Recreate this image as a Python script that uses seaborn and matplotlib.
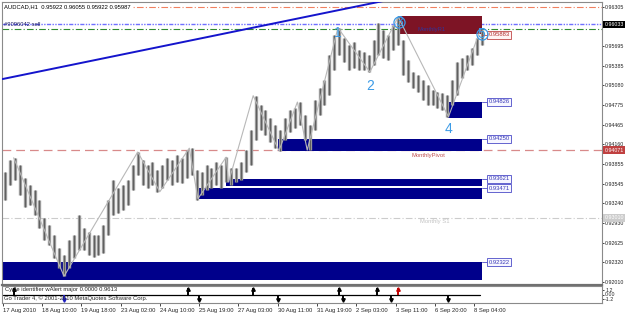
import numpy as np
import pandas as pd
import matplotlib
matplotlib.use("Agg")
import matplotlib.pyplot as plt
import seaborn as sns

# ---------------- data ----------------
symbol_header = "AUDCAD,H1  0.95922 0.96055 0.95922 0.95987"
order_text = "#9096042 sell"

# 4-hour condensed bars (hour index from 17 Aug 2010 02:00)
bar_hours = list(range(2, 392, 4))
bar_high = [0.9373, 0.9392, 0.9395, 0.9384, 0.9363, 0.9352, 0.9345, 0.9329, 0.9301, 0.9290,
            0.9274, 0.9254, 0.9243, 0.9267, 0.9274, 0.9306, 0.9285, 0.9279, 0.9274, 0.9274,
            0.9290, 0.9329, 0.9360, 0.9348, 0.9352, 0.9360, 0.9384, 0.9404, 0.9392, 0.9384,
            0.9388, 0.9376, 0.9384, 0.9395, 0.9392, 0.9399, 0.9395, 0.9407, 0.9410, 0.9376,
            0.9373, 0.9384, 0.9379, 0.9388, 0.9384, 0.9396, 0.9379, 0.9379, 0.9388, 0.9407,
            0.9438, 0.9492, 0.9477, 0.9470, 0.9457, 0.9446, 0.9438, 0.9457, 0.9470, 0.9473,
            0.9482, 0.9462, 0.9446, 0.9485, 0.9504, 0.9517, 0.9556, 0.9587, 0.9598, 0.9582,
            0.9571, 0.9576, 0.9563, 0.9560, 0.9556, 0.9579, 0.9606, 0.9595, 0.9587, 0.9602,
            0.9615, 0.9579, 0.9548, 0.9529, 0.9524, 0.9517, 0.9509, 0.9501, 0.9498, 0.9496,
            0.9493, 0.9517, 0.9545, 0.9551, 0.9556, 0.9566, 0.9582, 0.9595]
bar_low = [0.9329, 0.9352, 0.9360, 0.9337, 0.9318, 0.9321, 0.9306, 0.9285, 0.9267, 0.9259,
           0.9238, 0.9223, 0.9210, 0.9223, 0.9238, 0.9251, 0.9251, 0.9243, 0.9240, 0.9243,
           0.9246, 0.9274, 0.9306, 0.9309, 0.9313, 0.9321, 0.9345, 0.9368, 0.9352, 0.9348,
           0.9352, 0.9342, 0.9348, 0.9360, 0.9352, 0.9357, 0.9356, 0.9363, 0.9368, 0.9329,
           0.9337, 0.9345, 0.9348, 0.9352, 0.9348, 0.9357, 0.9352, 0.9357, 0.9360, 0.9373,
           0.9384, 0.9423, 0.9438, 0.9431, 0.9420, 0.9410, 0.9406, 0.9423, 0.9435, 0.9442,
           0.9446, 0.9423, 0.9407, 0.9438, 0.9462, 0.9477, 0.9493, 0.9532, 0.9556, 0.9545,
           0.9532, 0.9535, 0.9532, 0.9532, 0.9529, 0.9540, 0.9556, 0.9551, 0.9548, 0.9563,
           0.9571, 0.9524, 0.9513, 0.9504, 0.9498, 0.9485, 0.9477, 0.9477, 0.9473, 0.9470,
           0.9459, 0.9477, 0.9493, 0.9520, 0.9532, 0.9540, 0.9556, 0.9571]

# zigzag swing points
zz_hours = [9, 50, 110, 128, 152, 159, 182, 184, 204, 225, 240, 248, 273, 299, 322, 363, 389]
zz_price = [0.9395, 0.9210, 0.9404, 0.9342, 0.9410, 0.9331, 0.9396, 0.9357, 0.9492, 0.9406,
            0.9482, 0.9407, 0.9598, 0.9529, 0.9615, 0.9459, 0.9595]

# Elliott wave labels: zigzag index, text
wave_idx = [12, 13, 14, 15, 16]
wave_txt = ["1", "2", "3", "4", "5"]

# trend line
trend_hours = [0, 330]
trend_price = [0.9518, 0.96478]

# zones: start hour, end hour, bottom, top, label
zone_start = [322, 363, 224, 182, 159, 0]
zone_end = [390, 390, 390, 390, 390, 390]
zone_bottom = [0.9588, 0.9457, 0.9406, 0.9351, 0.93306, 0.92041]
zone_top = [0.9616, 0.94826, 0.94250, 0.93621, 0.93471, 0.92322]
zone_label = ["0.95883", "0.94826", "0.94250", "0.93621", "0.93471", "0.92322"]
zone_label_price = [0.95868, 0.94826, 0.94250, 0.93621, 0.93471, 0.92322]

# horizontal levels
level_price = [0.9630, 0.96033, 0.9596, 0.94071, 0.93010]

# price scale
ytick_vals = [0.96305, 0.95695, 0.95385, 0.95080, 0.94775, 0.94465, 0.94160,
              0.93855, 0.93545, 0.93240, 0.92930, 0.92625, 0.92320, 0.92010]
date_hours = [0, 32, 64, 96, 128, 160, 192, 224, 256, 288, 320, 352, 384]
date_labels = ["17 Aug 2010", "18 Aug 10:00", "19 Aug 18:00", "23 Aug 02:00", "24 Aug 10:00",
               "25 Aug 19:00", "27 Aug 03:00", "30 Aug 11:00", "31 Aug 19:00", "2 Sep 03:00",
               "3 Sep 11:00", "6 Sep 20:00", "8 Sep 04:00"]

# cycle indicator spikes
cyc_hours = [9, 50, 151, 160, 204, 224, 274, 277, 305, 316, 322, 363]
cyc_vals = [1, -1, 1, -1, 1, -1, 1, -1, 1, -1, 1, -1]
cyc_line_hours = [0, 389]
cyc_line_vals = [0, 0]

# ---------------- style ----------------
sns.set_style("white")
plt.rcParams["font.family"] = ["Liberation Sans", "DejaVu Sans"]
FS = 4.2
FSA = 3.8
W, H = 625, 314
fig = plt.figure(figsize=(W / 100, H / 100), dpi=100)
fig.patch.set_facecolor("white")

def fx(px):
    return px / W

def fy(py):
    return 1 - py / H

ax = fig.add_axes([fx(2), fy(285), 600 / W, 283 / H])
axi = fig.add_axes([fx(2), fy(303), 600 / W, 17 / H])

XL = (-0.5, 488.0)
ax.set_xlim(*XL)
ax.set_ylim(0.91963, 0.96383)
axi.set_xlim(*XL)
axi.set_ylim(-2.2, 2.2)

for a in (ax, axi):
    for s in a.spines.values():
        s.set_color("#8a8a8a")
        s.set_linewidth(0.8)
ax.spines["bottom"].set_linewidth(1.6)
ax.spines["bottom"].set_color("#707070")

# horizontal levels
level_styles = [
    dict(color="#f08060", ls=(0, (6, 2, 1, 2)), lw=0.8),
    dict(color="#7070ff", ls=(0, (3, 1, 1, 1, 1, 1)), lw=1.0),
    dict(color="#2e8b2e", ls=(0, (6, 2, 1, 2)), lw=0.8),
    dict(color="#d88a8a", ls=(0, (7, 4)), lw=0.9),
    dict(color="#cccccc", ls=(0, (6, 2, 1, 2)), lw=0.8),
]
for p, st in zip(level_price, level_styles):
    ax.axhline(p, zorder=1, **st)

# zones
zone_fc = ["#7d1425", "#00008b", "#00008b", "#00008b", "#00008b", "#00008b"]
for i in range(len(zone_start)):
    ax.add_patch(plt.Rectangle((zone_start[i], zone_bottom[i]), zone_end[i] - zone_start[i],
                               zone_top[i] - zone_bottom[i], facecolor=zone_fc[i],
                               edgecolor="none", zorder=2))

# trend line
sns.lineplot(x=trend_hours, y=trend_price, ax=ax, color="#1414cc", lw=1.4, zorder=3)

# bars
ax.vlines(bar_hours, bar_low, bar_high, color="#9a9a9a", lw=2.4, zorder=4)
ax.vlines(bar_hours, bar_low, bar_high, color="#555555", lw=0.6, zorder=4)

# zigzag
sns.lineplot(x=zz_hours, y=zz_price, ax=ax, color="#b8b8b8", lw=0.8, zorder=5,
             sort=False, estimator=None)

# zone labels
for i in range(len(zone_label)):
    red = i == 0
    ec = "#c04848" if red else "#4b4bc8"
    tc = "#b03030" if red else "#3a3ab8"
    ax.plot([zone_end[i], zone_end[i] + 5], [zone_label_price[i]] * 2, color=ec, lw=0.6, zorder=5)
    ax.text(zone_end[i] + 5.5, zone_label_price[i], zone_label[i], fontsize=FS, color=tc,
            va="center", ha="left", zorder=6,
            bbox=dict(boxstyle="square,pad=0.25", fc="#f6f6ff" if not red else "#fff4f4",
                      ec=ec, lw=0.6))

# wave labels
wave_off = [(0, -4), (0, -10), (0.5, -3.5), (0, -8.5), (1, -3)]
for k, t, off in zip(wave_idx, wave_txt, wave_off):
    ax.annotate(t, (zz_hours[k], zz_price[k]), xytext=off, textcoords="offset points",
                ha="center", va="center", fontsize=10, color="#3c9be6", zorder=7)
    if t in ("3", "5"):
        ax.plot([zz_hours[k]], [zz_price[k]], marker="o", ms=8, mfc="none", mec="#3c9be6",
                mew=0.9, zorder=7, transform=ax.transData + matplotlib.transforms.ScaledTranslation(
                    off[0] / 72, off[1] / 72, fig.dpi_scale_trans))

# level texts
ax.text(338, 0.95950, "MonthlyR1", fontsize=FS, color="#33339a", zorder=6, va="center")
ax.text(333, 0.93980, "MonthlyPivot", fontsize=FS, color="#c05050", zorder=6, va="center")
ax.text(340, 0.92950, "Monthly S1", fontsize=FS, color="#c4c4c4", zorder=6, va="center")

# header texts
fig.text(fx(4), fy(7), symbol_header, fontsize=FS, color="black", va="center", ha="left",
         bbox=dict(boxstyle="square,pad=0.15", fc="white", ec="none"), zorder=10)
fig.text(fx(4), fy(25), order_text, fontsize=FS, color="#1a1a60", va="center", ha="left",
         zorder=10)

# price axis
ax.yaxis.tick_right()
ax.set_yticks(ytick_vals)
ax.set_yticklabels([f"{v:.5f}" for v in ytick_vals])
ax.tick_params(axis="y", right=True, length=1.5, width=0.6, pad=0.8, labelsize=FSA,
               colors="#222222")
ax.set_xticks([])

# axis price badges
badges = [(0.96033, "0.96033", "black"),
          (0.94071, "0.94071", "#c04040"), (0.93010, "0.93010", "#cccccc")]
for p, t, c in badges:
    ax.text(1.004, p, t, transform=ax.get_yaxis_transform(), fontsize=FSA, color="white",
            va="center", ha="left", zorder=10, clip_on=False,
            bbox=dict(boxstyle="square,pad=0.2", fc=c, ec="none"))

# indicator
sns.lineplot(x=cyc_line_hours, y=cyc_line_vals, ax=axi, color="black", lw=0.9)
for h, v in zip(cyc_hours, cyc_vals):
    col = "#c00000" if h == 322 else ("#2020c0" if h == 50 else "black")
    axi.vlines(h, 0, 1.8 * v, color=col, lw=1.4)
    axi.plot([h], [1.3 * v], marker="^" if v > 0 else "v", ms=2.5, color=col)
axi.yaxis.tick_right()
axi.set_yticks([1.2, 0, -1.2])
axi.set_yticklabels(["1.2", "0.00", "-1.2"])
axi.tick_params(axis="y", right=True, length=1.5, width=0.6, pad=0.8, labelsize=FSA)
axi.set_xticks(date_hours)
axi.set_xticklabels(date_labels, ha="left")
axi.tick_params(axis="x", bottom=True, length=2, width=0.6, pad=1.5, labelsize=FS)
axi.text(0.005, 0.78, "Cycle identifier wAlert major 0.0000 0.9613", transform=axi.transAxes,
         fontsize=FS, va="center", ha="left")
fig.text(fx(4), fy(298), "Go Trader 4, \u00a9 2001-2010 MetaQuotes Software Corp.", fontsize=FS,
         va="center", ha="left")

fig.savefig("out.png", dpi=100, facecolor="white")
